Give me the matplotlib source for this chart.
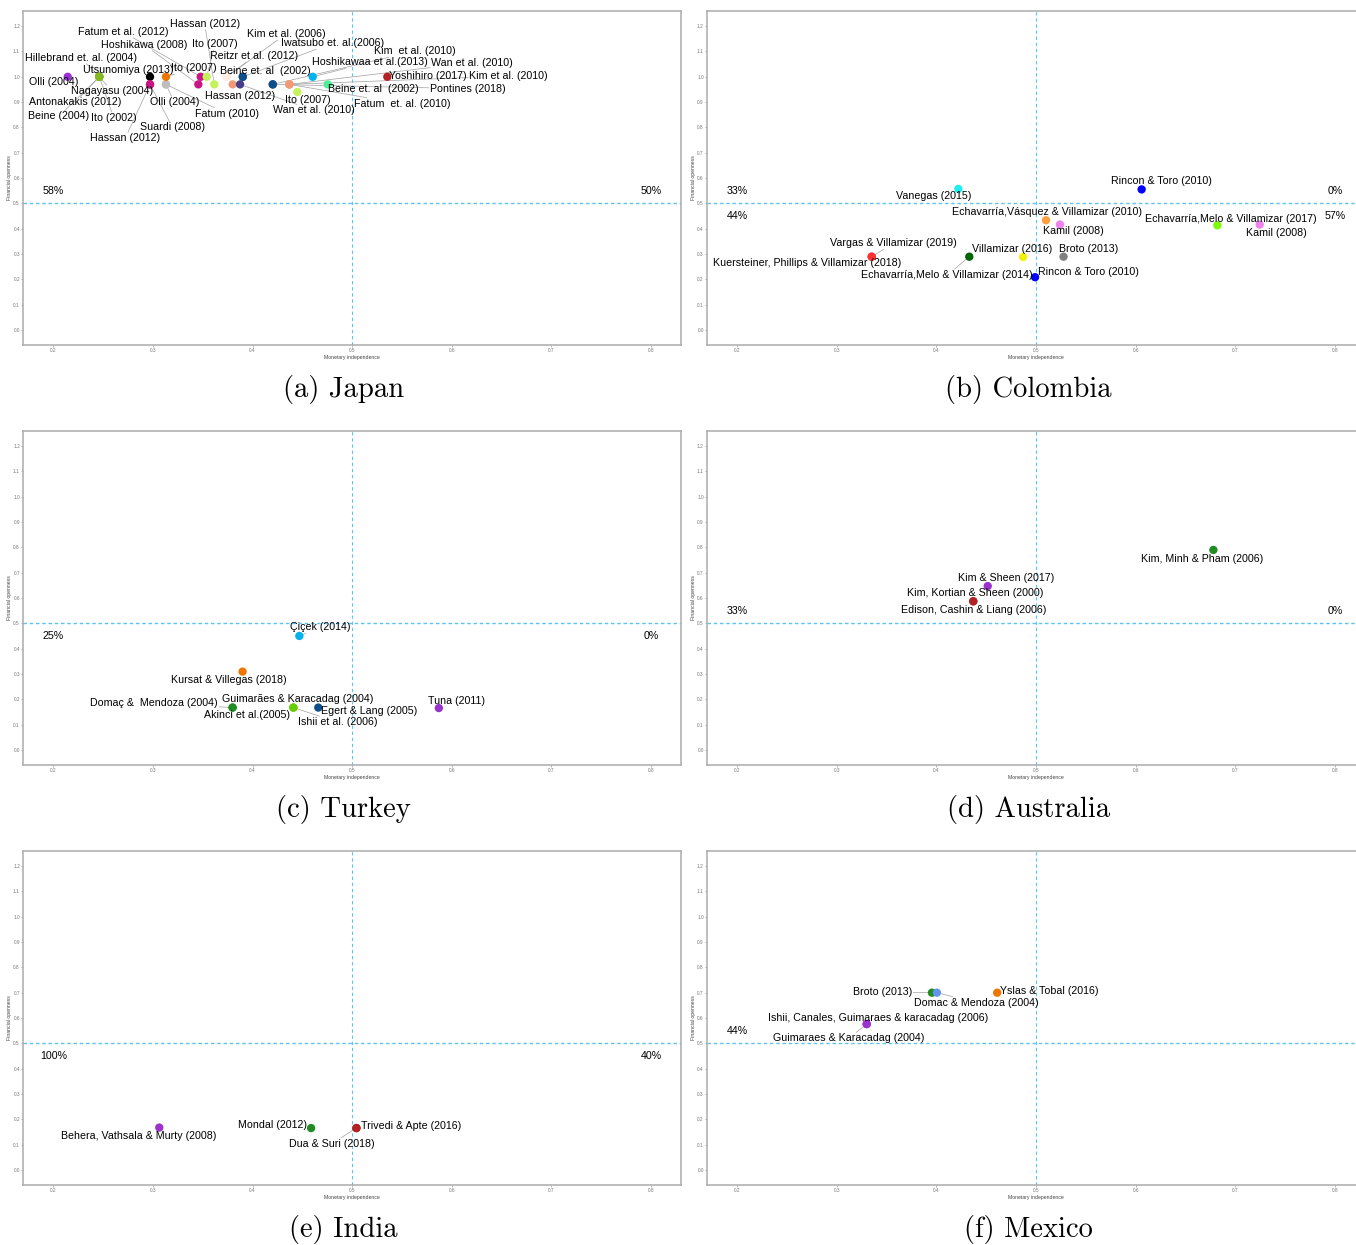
import matplotlib
matplotlib.use("Agg")
import matplotlib.pyplot as plt
from matplotlib.lines import Line2D
import numpy as np

plt.rcParams['font.family'] = ['Liberation Sans', 'DejaVu Sans']

# ---------------- data ----------------
japan_labels = ["Olli (2004)", "Hillebrand et. al. (2004)", "Nagayasu (2004)", "Antonakakis (2012)",
                "Beine (2004)", "Ito (2002)", "Utsunomiya (2013)", "Hassan (2012)", "Suardi (2008)",
                "Olli (2004)", "Fatum (2010)", "Ito (2007)", "Fatum et al. (2012)", "Hoshikawa (2008)",
                "Hassan (2012)", "Ito (2007)", "Kim et al. (2006)", "Reitzr et al. (2012)",
                "Iwatsubo et. al.(2006)", "Beine et. al  (2002)", "Hassan (2012)", "Wan et al. (2010)",
                "Kim  et al. (2010)", "Pontines (2018)", "Wan et al. (2010)", "Kim et al. (2010)",
                "Fatum  et. al. (2010)", "Ito (2007)", "Hoshikawaa et al.(2013)", "Beine et. al  (2002)",
                "Yoshihiro (2017)"]
japan_x = [0.2145, 0.2462, 0.2462, 0.2462, 0.2462, 0.2462, 0.2971, 0.2971, 0.2971,
           0.3131, 0.3131, 0.3131, 0.3480, 0.3456, 0.3616, 0.3540, 0.3741, 0.3741,
           0.3902, 0.3902, 0.3801, 0.3875, 0.4203, 0.4203, 0.4370, 0.4370, 0.4370,
           0.4450, 0.4604, 0.4755, 0.5353]
japan_y = [1.00, 1.00, 1.00, 1.00, 1.00, 1.00, 1.00, 0.97, 0.97,
           0.97, 0.97, 1.00, 1.00, 0.97, 0.97, 1.00, 1.00, 1.00,
           1.00, 1.00, 0.97, 0.97, 0.97, 0.97, 0.97, 0.97, 0.97,
           0.94, 1.00, 0.97, 1.00]
japan_pct = ["58%", "50%", "", ""]

colombia_labels = ["Rincon & Toro (2010)", "Vanegas (2015)", "Echavarría,Vásquez & Villamizar (2010)",
                   "Kamil (2008)", "Echavarría,Melo & Villamizar (2017)", "Kamil (2008)",
                   "Vargas & Villamizar (2019)", "Kuersteiner, Phillips & Villamizar (2018)",
                   "Villamizar (2016)", "Broto (2013)", "Echavarría,Melo & Villamizar (2014)",
                   "Rincon & Toro (2010)"]
colombia_x = [0.606, 0.422, 0.510, 0.524, 0.682, 0.7245, 0.335, 0.335, 0.487, 0.5276, 0.433, 0.499]
colombia_y = [0.555, 0.557, 0.433, 0.416, 0.413, 0.416, 0.289, 0.289, 0.288, 0.289, 0.289, 0.208]
colombia_pct = ["33%", "0%", "44%", "57%"]

turkey_labels = ["Çiçek (2014)", "Kursat & Villegas (2018)", "Domaç &  Mendoza (2004)",
                 "Akinci et al.(2005)", "Guimarães & Karacadag (2004)", "Ishii et al. (2006)",
                 "Egert & Lang (2005)", "Tuna (2011)"]
turkey_x = [0.447, 0.390, 0.380, 0.380, 0.441, 0.441, 0.466, 0.587]
turkey_y = [0.450, 0.309, 0.167, 0.167, 0.167, 0.167, 0.167, 0.165]
turkey_pct = ["", "", "25%", "0%"]

australia_labels = ["Kim, Minh & Pham (2006)", "Kim & Sheen (2017)",
                    "Kim, Kortian & Sheen (2000)", "Edison, Cashin & Liang (2006)"]
australia_x = [0.678, 0.4515, 0.437, 0.437]
australia_y = [0.790, 0.647, 0.587, 0.587]
australia_pct = ["33%", "0%", "", ""]

india_labels = ["Behera, Vathsala & Murty (2008)", "Mondal (2012)", "Dua & Suri (2018)",
                "Trivedi & Apte (2016)"]
india_x = [0.3064, 0.4588, 0.5043, 0.5043]
india_y = [0.167, 0.165, 0.165, 0.165]
india_pct = ["", "", "100%", "40%"]

mexico_labels = ["Broto (2013)", "Domac & Mendoza (2004)", "Yslas & Tobal (2016)",
                 "Ishii, Canales, Guimaraes & karacadag (2006)", "Guimaraes & Karacadag (2004)"]
mexico_x = [0.3955, 0.4005, 0.461, 0.330, 0.330]
mexico_y = [0.700, 0.700, 0.700, 0.576, 0.576]
mexico_pct = ["44%", "", "", ""]

captions = ["(a) Japan", "(b) Colombia", "(c) Turkey", "(d) Australia", "(e) India", "(f) Mexico"]
x_ticks = [0.2, 0.3, 0.4, 0.5, 0.6, 0.7, 0.8]
y_ticks = [0.0, 0.1, 0.2, 0.3, 0.4, 0.5, 0.6, 0.7, 0.8, 0.9, 1.0, 1.1, 1.2]

# ---------------- styles / layout ----------------
c_purple, c_olive, c_mvr = "#9B30D9", "#84B822", "#C71585"
c_org, c_gray, c_gy = "#EE7600", "#BEBEBE", "#C5F25A"
c_salm, c_db, c_dsb = "#F29A76", "#104E8B", "#483D8B"
c_dsky, c_spring, c_fire, c_white = "#00B2EE", "#4EEE94", "#B22222", "#FFEDE3"
japan_colors = [c_purple, c_olive, c_olive, c_olive, c_olive, c_olive, "#000000", c_mvr, c_mvr,
                c_gray, c_gray, c_org, c_mvr, c_mvr, c_gy, c_gy, c_white, c_white,
                c_db, c_db, c_salm, c_dsb, c_db, c_db, c_salm, c_salm, c_salm,
                c_gy, c_dsky, c_spring, c_fire]
japan_off = [(-14.4, -5.7), (-18.5, 19), (12.7, -14.4), (-24.3, -25.7), (-40.5, -39.7), (14.4, -41),
             (-22, 6.4), (-24.7, -53.7), (22.5, -43), (8.3, -17.7), (60.8, -29.3), (27.8, 8.6),
             (-77.9, 45), (-54.3, 39.7), (-9.6, 60.7), (8.3, 32.7), (59.1, 42.7), (27.3, 20.3),
             (89.3, 33.4), (22.3, 5.7), (7.8, -11.7), (73.8, -26), (141.6, 33), (194.8, -4.3),
             (182.4, 21.7), (219, 8.3), (112.4, -19.3), (10.2, -8), (56.8, 14.4), (45.6, -5),
             (40.7, 1)]

colombia_colors = ["#0000FF", "#1EEEEE", "#FFA040", "#EE82EE", "#7CFC00", "#EE82EE",
                   "#FF3030", "#FF3030", "#F2F200", "#808080", "#006400", "#0000FF"]
colombia_off = [(19.9, 8.3), (-24.9, -7), (0.6, 8), (13.8, -6.6), (13.4, 6.3), (16.3, -8.6),
                (21.7, 13.4), (-64.1, -6.6), (-11, 7.7), (25.2, 8), (-22, -18.3), (53.7, 5)]

turkey_colors = ["#00B2EE", "#EE7600", "#228B22", "#228B22", "#66CD00", "#66CD00", "#104E8B", "#9A32CD"]
turkey_off = [(21.1, 8.7), (-13.4, -8.3), (-78.3, 4.4), (14.7, -7.3), (4.6, 8.7), (44.2, -14.6),
              (50.8, -3.3), (17.4, 6.6)]

australia_colors = ["#228B22", "#9A32CD", "#B22222", "#B22222"]
australia_off = [(-11.6, -9.3), (18.3, 8.3), (2.1, 8.6), (0.6, -8.7)]

india_colors = ["#9A32CD", "#228B22", "#B22222", "#B22222"]
india_off = [(-20.5, -8.3), (-38.2, 3.3), (-24.9, -15.7), (54.5, 1.6)]

mexico_colors = ["#228B22", "#6495ED", "#EE7600", "#9A32CD", "#9A32CD"]
mexico_off = [(-49.2, 1), (39.6, -10), (51.9, 1.3), (11.8, 6.3), (-18, -14.3)]

W, H, DPI = 1356, 1245, 100
PANEL_W, PANEL_H = 657.5, 334
LEFTS = [23.4, 707.3]
TOPS = [11, 431, 851]
CAP_X = [343.5, 1028.5]
CAP_DY = 379
PCT_POS = [(0.2, 0.55), (0.8, 0.55), (0.2, 0.45), (0.8, 0.45)]
LAB_FS = 7.7
REF_COLOR = "#5CC4F2"

fig = plt.figure(figsize=(W / DPI, H / DPI), dpi=DPI)
fig.patch.set_facecolor("white")

panels = [
    (japan_x, japan_y, japan_labels, japan_colors, japan_off, japan_pct),
    (colombia_x, colombia_y, colombia_labels, colombia_colors, colombia_off, colombia_pct),
    (turkey_x, turkey_y, turkey_labels, turkey_colors, turkey_off, turkey_pct),
    (australia_x, australia_y, australia_labels, australia_colors, australia_off, australia_pct),
    (india_x, india_y, india_labels, india_colors, india_off, india_pct),
    (mexico_x, mexico_y, mexico_labels, mexico_colors, mexico_off, mexico_pct),
]

all_texts = []
for i, (xs, ys, labs, cols, offs, pcts) in enumerate(panels):
    row, col = divmod(i, 2)
    left, top = LEFTS[col], TOPS[row]
    ax = fig.add_axes([left / W, 1 - (top + PANEL_H) / H, PANEL_W / W, PANEL_H / H])
    ax.set_xlim(0.17, 0.83)
    ax.set_ylim(-0.06, 1.26)
    for s in ax.spines.values():
        s.set_color("#ABABAB")
        s.set_linewidth(1.1)
    ax.set_xticks(x_ticks)
    ax.set_xticklabels([f"{v:.1f}" for v in x_ticks])
    ax.set_yticks(y_ticks)
    ax.set_yticklabels([f"{v:.1f}" for v in y_ticks])
    ax.tick_params(length=1.5, width=0.5, color="#999999", labelsize=3.4,
                   labelcolor="#777777", pad=1.0)
    ax.set_xlabel("Monetary independence", fontsize=3.7, color="#444444", labelpad=0.8)
    ax.set_ylabel("Financial openness", fontsize=3.7, color="#444444", labelpad=0.4)
    ax.axvline(0.5, color=REF_COLOR, lw=0.8, dashes=(3, 2.5), zorder=1, snap=True)
    ax.plot([0.17, 0.83], [0.5, 0.5], color=REF_COLOR, lw=1.0, dashes=(2.5, 2),
            zorder=1, solid_capstyle="butt", dash_capstyle="butt")
    ax.scatter(xs, ys, c=cols, s=36, linewidths=0, zorder=3)
    for x, y, lab, (dx, dy) in zip(xs, ys, labs, offs):
        t = ax.annotate(lab, (x, y), xytext=(dx, dy), textcoords="offset pixels",
                        ha="center", va="center", fontsize=LAB_FS, color="black", zorder=4)
        all_texts.append((ax, x, y, t))
    for (px, py), txt in zip(PCT_POS, pcts):
        if txt:
            ax.text(px, py, txt, ha="center", va="center", fontsize=LAB_FS, color="black")
    fig.text(CAP_X[col] / W, 1 - (top + CAP_DY) / H, captions[i], ha="center", va="center",
             fontsize=20.6, family="cmr10")

# ggrepel-like connector segments
fig.canvas.draw()
renderer = fig.canvas.get_renderer()
for ax, x, y, t in all_texts:
    bb = t.get_window_extent(renderer)
    P = ax.transData.transform((x, y))
    cx, cy = (bb.x0 + bb.x1) / 2, (bb.y0 + bb.y1) / 2
    pad = 1.0
    x0, x1, y0, y1 = bb.x0 - pad, bb.x1 + pad, bb.y0 - pad, bb.y1 + pad
    dx, dy = P[0] - cx, P[1] - cy
    tx = ((x1 - cx) / dx if dx > 0 else (x0 - cx) / dx) if dx != 0 else np.inf
    ty = ((y1 - cy) / dy if dy > 0 else (y0 - cy) / dy) if dy != 0 else np.inf
    tt = min(tx, ty)
    if tt >= 1:
        continue
    S = np.array([cx + tt * dx, cy + tt * dy])
    L = np.hypot(*(P - S))
    if L < 7:
        continue
    E = P - (P - S) / L * 3.0
    inv = ax.transData.inverted()
    (sx, sy), (ex, ey) = inv.transform(S), inv.transform(E)
    ax.add_line(Line2D([sx, ex], [sy, ey], color="#A0A0A0", lw=0.5, zorder=2))

fig.savefig("out.png", dpi=DPI, facecolor="white")
